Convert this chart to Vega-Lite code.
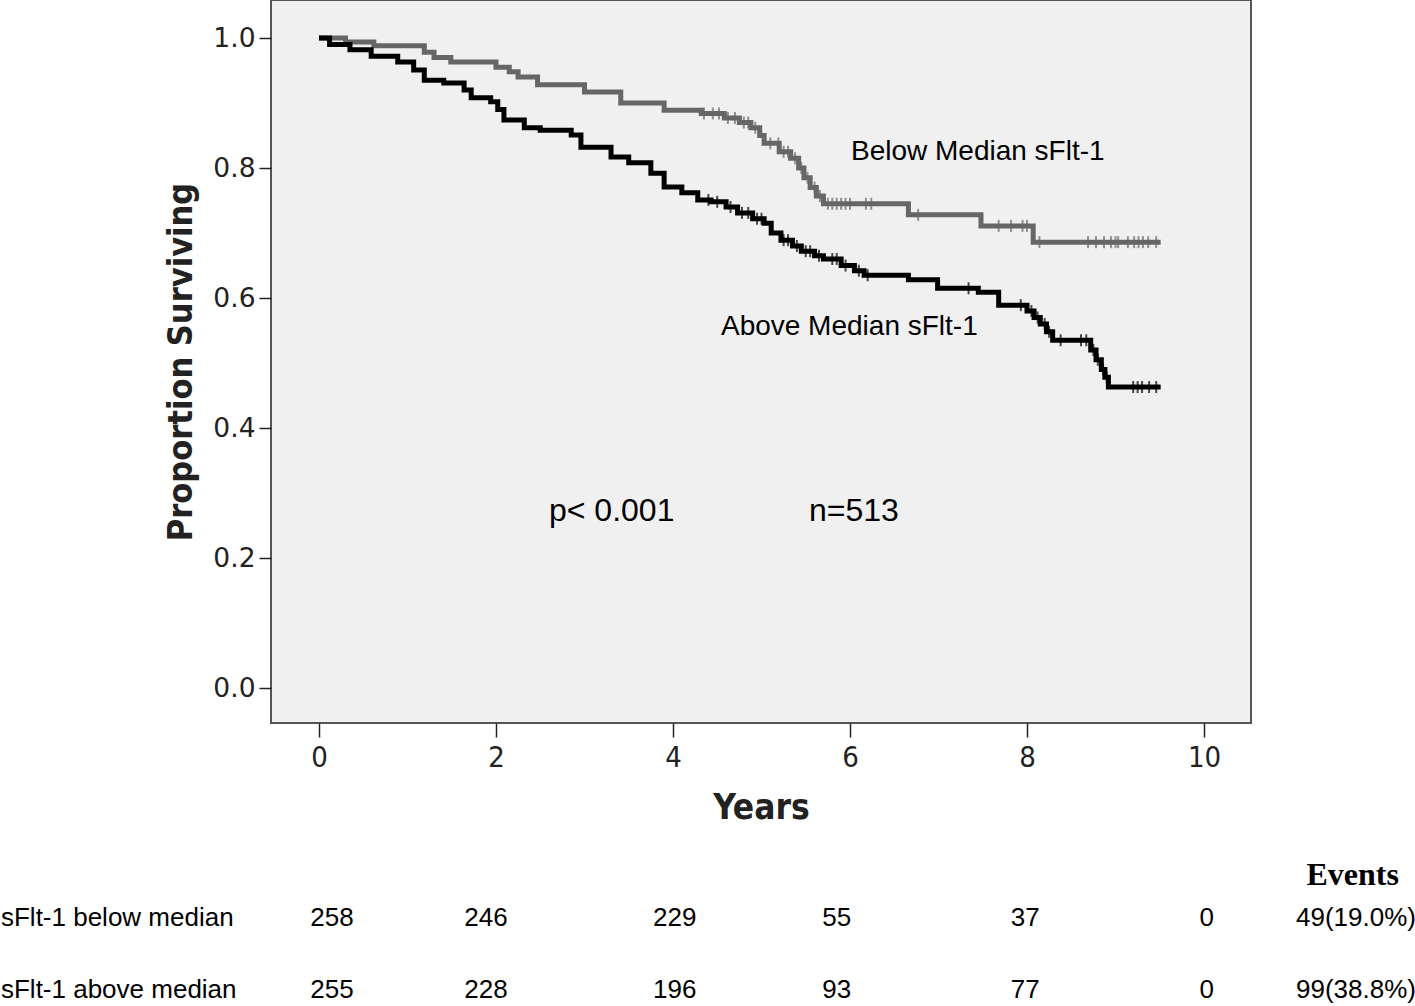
{
  "$schema": "https://vega.github.io/schema/vega-lite/v6.json",
  "width": 980,
  "height": 723,
  "padding": 0,
  "background": "#ffffff",
  "config": {
    "view": {"fill": "#f0f0f0", "stroke": "#555555", "strokeWidth": 2},
    "axis": {"grid": false, "domain": false, "tickColor": "#222222", "tickWidth": 1.5, "labelColor": "#222222", "titleColor": "#222222"}
  },
  "datasets": {
    "curves": [
      {"group": "Below", "year": 0, "surv": 1.0},
      {"group": "Below", "year": 0.3, "surv": 0.994},
      {"group": "Below", "year": 0.62, "surv": 0.988},
      {"group": "Below", "year": 1.19, "surv": 0.978},
      {"group": "Below", "year": 1.3, "surv": 0.97},
      {"group": "Below", "year": 1.49, "surv": 0.963},
      {"group": "Below", "year": 2.0, "surv": 0.955},
      {"group": "Below", "year": 2.15, "surv": 0.948},
      {"group": "Below", "year": 2.25, "surv": 0.94},
      {"group": "Below", "year": 2.47, "surv": 0.928},
      {"group": "Below", "year": 3.0, "surv": 0.917},
      {"group": "Below", "year": 3.41, "surv": 0.9},
      {"group": "Below", "year": 3.9, "surv": 0.889},
      {"group": "Below", "year": 4.32, "surv": 0.884},
      {"group": "Below", "year": 4.58, "surv": 0.877},
      {"group": "Below", "year": 4.75, "surv": 0.87},
      {"group": "Below", "year": 4.88, "surv": 0.862},
      {"group": "Below", "year": 4.98, "surv": 0.85},
      {"group": "Below", "year": 5.03, "surv": 0.838},
      {"group": "Below", "year": 5.2, "surv": 0.825},
      {"group": "Below", "year": 5.33, "surv": 0.815},
      {"group": "Below", "year": 5.42, "surv": 0.8},
      {"group": "Below", "year": 5.48, "surv": 0.785},
      {"group": "Below", "year": 5.55, "surv": 0.77},
      {"group": "Below", "year": 5.62, "surv": 0.757},
      {"group": "Below", "year": 5.7, "surv": 0.745},
      {"group": "Below", "year": 6.66, "surv": 0.728},
      {"group": "Below", "year": 7.48, "surv": 0.711},
      {"group": "Below", "year": 8.07, "surv": 0.686},
      {"group": "Below", "year": 9.51, "surv": 0.686},
      {"group": "Above", "year": 0, "surv": 1.0},
      {"group": "Above", "year": 0.12, "surv": 0.99},
      {"group": "Above", "year": 0.35, "surv": 0.982},
      {"group": "Above", "year": 0.59, "surv": 0.972},
      {"group": "Above", "year": 0.89, "surv": 0.963},
      {"group": "Above", "year": 1.07, "surv": 0.951},
      {"group": "Above", "year": 1.19, "surv": 0.935},
      {"group": "Above", "year": 1.41, "surv": 0.931},
      {"group": "Above", "year": 1.64, "surv": 0.92},
      {"group": "Above", "year": 1.72, "surv": 0.908},
      {"group": "Above", "year": 1.94, "surv": 0.902},
      {"group": "Above", "year": 2.02, "surv": 0.89},
      {"group": "Above", "year": 2.09, "surv": 0.874},
      {"group": "Above", "year": 2.32, "surv": 0.862},
      {"group": "Above", "year": 2.5, "surv": 0.858},
      {"group": "Above", "year": 2.85, "surv": 0.851},
      {"group": "Above", "year": 2.96, "surv": 0.832},
      {"group": "Above", "year": 3.3, "surv": 0.817},
      {"group": "Above", "year": 3.5, "surv": 0.808},
      {"group": "Above", "year": 3.75, "surv": 0.792},
      {"group": "Above", "year": 3.9, "surv": 0.771},
      {"group": "Above", "year": 4.1, "surv": 0.762},
      {"group": "Above", "year": 4.28, "surv": 0.751},
      {"group": "Above", "year": 4.43, "surv": 0.748},
      {"group": "Above", "year": 4.6, "surv": 0.74},
      {"group": "Above", "year": 4.73, "surv": 0.731},
      {"group": "Above", "year": 4.9, "surv": 0.722},
      {"group": "Above", "year": 5.03, "surv": 0.715},
      {"group": "Above", "year": 5.11, "surv": 0.7},
      {"group": "Above", "year": 5.22, "surv": 0.689},
      {"group": "Above", "year": 5.35, "surv": 0.68},
      {"group": "Above", "year": 5.45, "surv": 0.672},
      {"group": "Above", "year": 5.6, "surv": 0.665},
      {"group": "Above", "year": 5.7, "surv": 0.66},
      {"group": "Above", "year": 5.9, "surv": 0.65},
      {"group": "Above", "year": 6.05, "surv": 0.642},
      {"group": "Above", "year": 6.16, "surv": 0.635},
      {"group": "Above", "year": 6.66, "surv": 0.628},
      {"group": "Above", "year": 6.99, "surv": 0.615},
      {"group": "Above", "year": 7.45, "surv": 0.609},
      {"group": "Above", "year": 7.68, "surv": 0.589},
      {"group": "Above", "year": 8.0, "surv": 0.58},
      {"group": "Above", "year": 8.08, "surv": 0.57},
      {"group": "Above", "year": 8.15, "surv": 0.56},
      {"group": "Above", "year": 8.22, "surv": 0.548},
      {"group": "Above", "year": 8.29, "surv": 0.535},
      {"group": "Above", "year": 8.72, "surv": 0.52},
      {"group": "Above", "year": 8.78, "surv": 0.505},
      {"group": "Above", "year": 8.84, "surv": 0.49},
      {"group": "Above", "year": 8.88, "surv": 0.478},
      {"group": "Above", "year": 8.92, "surv": 0.463},
      {"group": "Above", "year": 9.51, "surv": 0.463}
    ],
    "censor": [
      {"group": "Below", "year": 4.35, "surv": 0.884},
      {"group": "Below", "year": 4.45, "surv": 0.884},
      {"group": "Below", "year": 4.52, "surv": 0.884},
      {"group": "Below", "year": 4.62, "surv": 0.877},
      {"group": "Below", "year": 4.7, "surv": 0.877},
      {"group": "Below", "year": 4.8, "surv": 0.87},
      {"group": "Below", "year": 4.85, "surv": 0.87},
      {"group": "Below", "year": 4.93, "surv": 0.862},
      {"group": "Below", "year": 5.1, "surv": 0.838},
      {"group": "Below", "year": 5.19, "surv": 0.838},
      {"group": "Below", "year": 5.25, "surv": 0.825},
      {"group": "Below", "year": 5.3, "surv": 0.825},
      {"group": "Below", "year": 5.38, "surv": 0.815},
      {"group": "Below", "year": 5.45, "surv": 0.8},
      {"group": "Below", "year": 5.52, "surv": 0.785},
      {"group": "Below", "year": 5.6, "surv": 0.77},
      {"group": "Below", "year": 5.66, "surv": 0.757},
      {"group": "Below", "year": 5.75, "surv": 0.745},
      {"group": "Below", "year": 5.8, "surv": 0.745},
      {"group": "Below", "year": 5.85, "surv": 0.745},
      {"group": "Below", "year": 5.9, "surv": 0.745},
      {"group": "Below", "year": 5.95, "surv": 0.745},
      {"group": "Below", "year": 6.0, "surv": 0.745},
      {"group": "Below", "year": 6.18, "surv": 0.745},
      {"group": "Below", "year": 6.24, "surv": 0.745},
      {"group": "Below", "year": 6.77, "surv": 0.728},
      {"group": "Below", "year": 7.68, "surv": 0.711},
      {"group": "Below", "year": 7.82, "surv": 0.711},
      {"group": "Below", "year": 7.95, "surv": 0.711},
      {"group": "Below", "year": 8.0, "surv": 0.711},
      {"group": "Below", "year": 8.14, "surv": 0.686},
      {"group": "Below", "year": 8.69, "surv": 0.686},
      {"group": "Below", "year": 8.78, "surv": 0.686},
      {"group": "Below", "year": 8.87, "surv": 0.686},
      {"group": "Below", "year": 8.95, "surv": 0.686},
      {"group": "Below", "year": 9.0, "surv": 0.686},
      {"group": "Below", "year": 9.03, "surv": 0.686},
      {"group": "Below", "year": 9.14, "surv": 0.686},
      {"group": "Below", "year": 9.21, "surv": 0.686},
      {"group": "Below", "year": 9.26, "surv": 0.686},
      {"group": "Below", "year": 9.31, "surv": 0.686},
      {"group": "Below", "year": 9.37, "surv": 0.686},
      {"group": "Below", "year": 9.46, "surv": 0.686},
      {"group": "Above", "year": 4.4, "surv": 0.751},
      {"group": "Above", "year": 4.5, "surv": 0.748},
      {"group": "Above", "year": 4.65, "surv": 0.74},
      {"group": "Above", "year": 4.78, "surv": 0.731},
      {"group": "Above", "year": 4.85, "surv": 0.731},
      {"group": "Above", "year": 4.95, "surv": 0.722},
      {"group": "Above", "year": 5.0, "surv": 0.722},
      {"group": "Above", "year": 5.25, "surv": 0.689},
      {"group": "Above", "year": 5.3, "surv": 0.689},
      {"group": "Above", "year": 5.4, "surv": 0.68},
      {"group": "Above", "year": 5.5, "surv": 0.672},
      {"group": "Above", "year": 5.55, "surv": 0.672},
      {"group": "Above", "year": 5.65, "surv": 0.665},
      {"group": "Above", "year": 5.8, "surv": 0.66},
      {"group": "Above", "year": 5.85, "surv": 0.66},
      {"group": "Above", "year": 5.95, "surv": 0.65},
      {"group": "Above", "year": 6.1, "surv": 0.642},
      {"group": "Above", "year": 6.2, "surv": 0.635},
      {"group": "Above", "year": 7.34, "surv": 0.615},
      {"group": "Above", "year": 7.93, "surv": 0.589},
      {"group": "Above", "year": 8.05, "surv": 0.58},
      {"group": "Above", "year": 8.12, "surv": 0.57},
      {"group": "Above", "year": 8.2, "surv": 0.56},
      {"group": "Above", "year": 8.25, "surv": 0.548},
      {"group": "Above", "year": 8.38, "surv": 0.535},
      {"group": "Above", "year": 8.61, "surv": 0.535},
      {"group": "Above", "year": 8.67, "surv": 0.535},
      {"group": "Above", "year": 8.75, "surv": 0.52},
      {"group": "Above", "year": 8.8, "surv": 0.505},
      {"group": "Above", "year": 8.86, "surv": 0.49},
      {"group": "Above", "year": 8.9, "surv": 0.478},
      {"group": "Above", "year": 9.2, "surv": 0.463},
      {"group": "Above", "year": 9.25, "surv": 0.463},
      {"group": "Above", "year": 9.3, "surv": 0.463},
      {"group": "Above", "year": 9.38, "surv": 0.463},
      {"group": "Above", "year": 9.46, "surv": 0.463}
    ],
    "labels": [
      {"kind": "curve", "year": 6.011, "surv": 0.8246, "text": "Below Median sFlt-1"},
      {"kind": "curve", "year": 4.542, "surv": 0.5554, "text": "Above Median sFlt-1"},
      {"kind": "stat", "year": 2.599, "surv": 0.2723, "text": "p< 0.001"},
      {"kind": "stat", "year": 5.537, "surv": 0.2723, "text": "n=513"}
    ],
    "table": [
      {"kind": "rowlabel", "year": -3.593, "surv": -0.3538, "text": "sFlt-1 below median"},
      {"kind": "rowlabel", "year": -3.593, "surv": -0.4646, "text": "sFlt-1 above median"},
      {"kind": "num", "year": 0.147, "surv": -0.3538, "text": "258"},
      {"kind": "num", "year": 1.887, "surv": -0.3538, "text": "246"},
      {"kind": "num", "year": 4.02, "surv": -0.3538, "text": "229"},
      {"kind": "num", "year": 5.85, "surv": -0.3538, "text": "55"},
      {"kind": "num", "year": 7.98, "surv": -0.3538, "text": "37"},
      {"kind": "num", "year": 10.03, "surv": -0.3538, "text": "0"},
      {"kind": "num", "year": 0.147, "surv": -0.4646, "text": "255"},
      {"kind": "num", "year": 1.887, "surv": -0.4646, "text": "228"},
      {"kind": "num", "year": 4.02, "surv": -0.4646, "text": "196"},
      {"kind": "num", "year": 5.85, "surv": -0.4646, "text": "93"},
      {"kind": "num", "year": 7.98, "surv": -0.4646, "text": "77"},
      {"kind": "num", "year": 10.03, "surv": -0.4646, "text": "0"},
      {"kind": "events", "year": 12.395, "surv": -0.3538, "text": "49(19.0%)"},
      {"kind": "events", "year": 12.395, "surv": -0.4646, "text": "99(38.8%)"},
      {"kind": "header", "year": 11.68, "surv": -0.2877, "text": "Events"}
    ]
  },
  "encoding": {
    "x": {"field": "year", "type": "quantitative", "scale": {"domain": [-0.542, 10.531], "nice": false, "zero": false},
      "axis": {"values": [0, 2, 4, 6, 8, 10], "format": "d", "tickSize": 14, "labelPadding": 6, "labelFont": "DejaVu Sans Condensed, DejaVu Sans", "labelFontSize": 29, "labelFontWeight": "normal",
        "title": "Years", "titleFont": "DejaVu Sans Condensed, DejaVu Sans", "titleFontSize": 35, "titleFontWeight": "bold", "titlePadding": 18}},
    "y": {"field": "surv", "type": "quantitative", "scale": {"domain": [-0.0538, 1.0585], "nice": false, "zero": false},
      "axis": {"values": [0, 0.2, 0.4, 0.6, 0.8, 1.0], "format": ".1f", "tickSize": 12, "labelPadding": 4, "labelFont": "DejaVu Sans", "labelFontSize": 26.5,
        "title": "Proportion Surviving", "titleFont": "DejaVu Sans Condensed, DejaVu Sans", "titleFontSize": 34, "titleFontWeight": "bold", "titlePadding": 14}}
  },
  "layer": [
    {
      "data": {"name": "curves"},
      "mark": {"type": "line", "interpolate": "step-after", "strokeWidth": 5, "strokeJoin": "miter"},
      "encoding": {
        "color": {"field": "group", "type": "nominal", "scale": {"domain": ["Below", "Above"], "range": ["#666666", "#000000"]}, "legend": null}
      }
    },
    {
      "data": {"name": "censor"},
      "mark": {"type": "tick", "orient": "vertical", "size": 12, "thickness": 2},
      "encoding": {
        "color": {"field": "group", "type": "nominal", "scale": {"domain": ["Below", "Above"], "range": ["#666666", "#000000"]}, "legend": null}
      }
    },
    {
      "data": {"name": "labels"},
      "transform": [{"filter": "datum.kind === 'curve'"}],
      "mark": {"type": "text", "align": "left", "baseline": "middle", "font": "Liberation Sans", "fontSize": 28, "color": "#000000"},
      "encoding": {"text": {"field": "text"}}
    },
    {
      "data": {"name": "labels"},
      "transform": [{"filter": "datum.kind === 'stat'"}],
      "mark": {"type": "text", "align": "left", "baseline": "middle", "font": "Liberation Sans", "fontSize": 32, "color": "#000000"},
      "encoding": {"text": {"field": "text"}}
    },
    {
      "data": {"name": "table"},
      "transform": [{"filter": "datum.kind === 'rowlabel'"}],
      "mark": {"type": "text", "align": "left", "baseline": "middle", "font": "Liberation Sans", "fontSize": 26, "color": "#000000"},
      "encoding": {"text": {"field": "text"}}
    },
    {
      "data": {"name": "table"},
      "transform": [{"filter": "datum.kind === 'num'"}],
      "mark": {"type": "text", "align": "center", "baseline": "middle", "font": "Liberation Sans", "fontSize": 26, "color": "#000000"},
      "encoding": {"text": {"field": "text"}}
    },
    {
      "data": {"name": "table"},
      "transform": [{"filter": "datum.kind === 'events'"}],
      "mark": {"type": "text", "align": "right", "baseline": "middle", "font": "Liberation Sans", "fontSize": 26, "color": "#000000"},
      "encoding": {"text": {"field": "text"}}
    },
    {
      "data": {"name": "table"},
      "transform": [{"filter": "datum.kind === 'header'"}],
      "mark": {"type": "text", "align": "center", "baseline": "middle", "font": "Liberation Serif", "fontSize": 32, "fontWeight": "bold", "color": "#000000"},
      "encoding": {"text": {"field": "text"}}
    }
  ]
}
